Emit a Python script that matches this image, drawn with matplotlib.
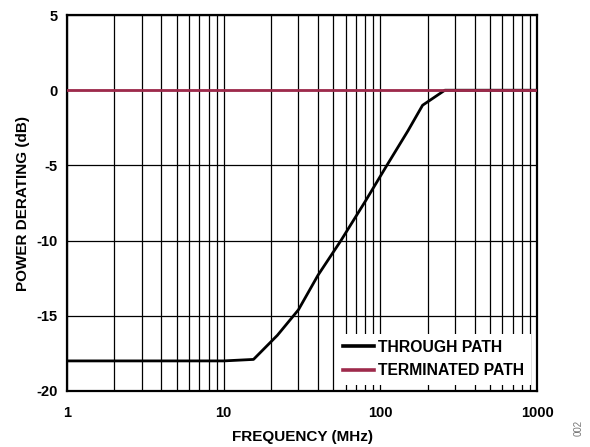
import numpy as np
import matplotlib.pyplot as plt
from matplotlib.ticker import FixedLocator, NullFormatter

plt.rcParams['font.family'] = ['Liberation Sans', 'DejaVu Sans']
plt.rcParams['font.weight'] = 'bold'

# through path
freq_through = [1, 10, 15.5, 22, 30, 40, 56, 80, 110, 150, 186, 258, 1000]
derate_through = [-18, -18, -17.9, -16.3, -14.6, -12.3, -10, -7.4, -5, -2.7, -1.0, 0, 0]
# terminated path
freq_term = [1, 1000]
derate_term = [0, 0]

x_ticks = [1, 10, 100, 1000]
y_ticks = [-20, -15, -10, -5, 0, 5]

fig = plt.figure(figsize=(5.9, 4.47), dpi=100)
ax = fig.add_axes([0.1136, 0.1253, 0.7966, 0.8411])

ax.set_xscale('log')
ax.plot(freq_through, derate_through, color='black', lw=2.0, label='THROUGH PATH', zorder=3)
ax.plot(freq_term, derate_term, color='#9E2A4B', lw=2.0, label='TERMINATED PATH', zorder=4)

ax.set_xlim(1, 1000)
ax.set_ylim(-20, 5)
ax.xaxis.set_major_locator(FixedLocator(x_ticks))
ax.xaxis.set_minor_locator(FixedLocator([m * d for d in [1, 10, 100] for m in range(2, 10)]))
ax.xaxis.set_minor_formatter(NullFormatter())
ax.set_xticks(x_ticks)
ax.set_xticklabels([str(t) for t in x_ticks])
ax.set_yticks(y_ticks)
ax.set_yticklabels([str(t) for t in y_ticks])
ax.tick_params(which='both', length=0, labelsize=10.5)
ax.tick_params(axis='x', pad=11)
ax.tick_params(axis='y', pad=7)
ax.grid(True, which='both', color='black', lw=0.9)
for s in ax.spines.values():
    s.set_linewidth(1.6)

ax.set_xlabel('FREQUENCY (MHz)', fontsize=11, fontweight='bold', labelpad=7)
ax.set_ylabel('POWER DERATING (dB)', fontsize=11, fontweight='bold', labelpad=4)

leg = ax.legend(loc='lower right', fontsize=11.3, frameon=True, fancybox=False,
                handlelength=2.0, handletextpad=0.25, borderaxespad=0.4,
                labelspacing=0.55, edgecolor='white', framealpha=1)
leg.get_frame().set_linewidth(0)
for h in leg.get_lines():
    h.set_linewidth(2.6)
leg.set_zorder(5)

fig.text(0.98, 0.043, '002', rotation=90, fontsize=7, color='#777777',
         fontweight='normal', ha='center', va='center')

fig.savefig('out.png', dpi=100)
